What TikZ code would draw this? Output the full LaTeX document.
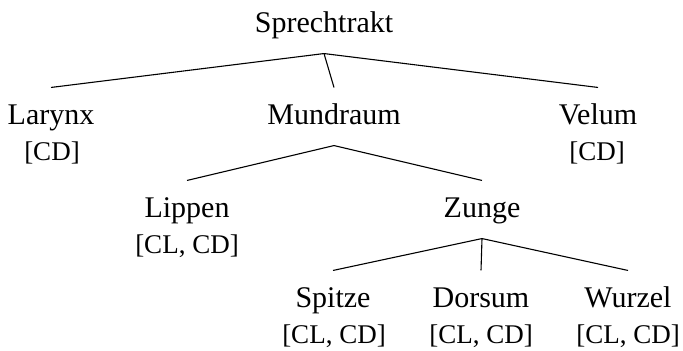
\documentclass[tikz,border=0pt]{standalone}
\usepackage{fontspec}
\setmainfont{Liberation Serif}
\usepackage{tikz}
\usetikzlibrary{positioning}

\begin{document}
\begin{tikzpicture}[x=1bp, y=-1bp, line width=1.1bp,
    every node/.style={font=\fontsize{30bp}{36bp}\selectfont, anchor=base},
    cat/.style={inner sep=0pt, text height=36bp, text depth=21bp},
    feat/.style={inner sep=0pt, font=\fontsize{27bp}{36bp}\selectfont}]
            \useasboundingbox (0,0) rectangle (683,350);
            \draw (324,32) node[cat]                  (st) {Sprechtrakt};
            \draw (51,124) node[cat]                  (lar) {Larynx};
            \draw (52,160) node[feat]                 (larf) {[CD]};
            \draw (334,124) node[cat]                 (mund) {Mundraum};
            \draw (598,124) node[cat]                 (vel) {Velum};
            \draw (597,160) node[feat]                (velf) {[CD]};
            \draw (187,217) node[cat]                 (lip) {Lippen};
            \draw (187,253) node[feat]                (lipf) {[CL, CD]};
            \draw (482,217) node[cat]                 (zun) {Zunge};
            \draw (333,307) node[cat]                 (spi) {Spitze};
            \draw (334,343) node[feat]                (spif) {[CL, CD]};
            \draw (481,307) node[cat]                 (dor) {Dorsum};
            \draw (481,343) node[feat]                (dorf) {[CL, CD]};
            \draw (628,307) node[cat]                 (wur) {Wurzel};
            \draw (628,343) node[feat]                (wurf) {[CL, CD]};
            \draw (st.south) -- (lar.north);
            \draw (st.south) -- (mund.north);
            \draw (st.south) -- (vel.north);
            \draw (mund.south) -- (lip.north);
            \draw (mund.south) -- (zun.north);
            \draw (zun.south) -- (spi.north);
            \draw (zun.south) -- (dor.north);
            \draw (zun.south) -- (wur.north);

            \end{tikzpicture}
\end{document}
